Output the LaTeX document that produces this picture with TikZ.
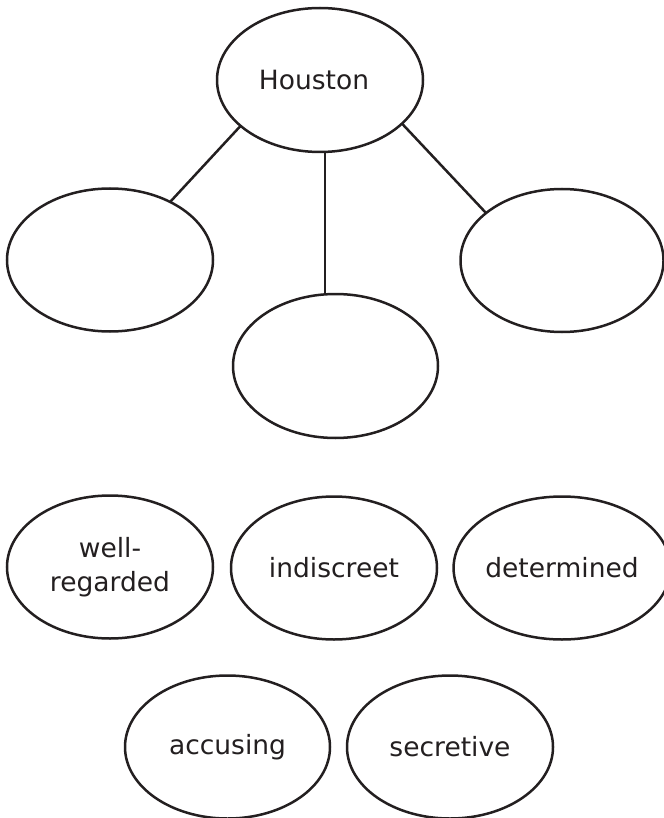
\documentclass[tikz,border=0pt]{standalone}
\usepackage{fontspec}
\setmainfont{DejaVu Sans}
\usetikzlibrary{shapes.geometric}
\definecolor{ink}{HTML}{231F20}
\begin{document}
\begin{tikzpicture}[x=1pt,y=-1pt,
  bubble/.style={ellipse, draw=ink, line width=2.5pt, inner sep=0pt, outer sep=0pt,
    minimum width=206pt, minimum height=143pt, text=ink, font=\fontsize{26.5}{34}\selectfont,
    align=center},
  link/.style={draw=ink, line width=2.5pt}]
\useasboundingbox (0,0) rectangle (663,818);
\node[bubble, minimum height=144pt] (houston) at (320,80) {\hspace*{-12pt}Houston};
\node[bubble] (left) at (110,260) {};
\node[bubble, minimum width=205pt, minimum height=144pt] (mid) at (335.5,366) {};
\node[bubble, minimum width=203pt] (right) at (562,260.5) {};
\node[bubble] (wr) at (110,567) {well-\\regarded};
\node[bubble] (ind) at (334,568) {indiscreet};
\node[bubble, minimum width=203pt] (det) at (562,568) {determined};
\node[bubble, minimum width=205pt] (acc) at (227.5,747) {accusing};
\node[bubble] (sec) at (450,747) {secretive};
\draw[link] (houston.210) -- (left.44.5);
\draw[link] (houston.332) -- (right.148);
\draw[link] (houston.274) -- (houston.274 |- mid.north);
\end{tikzpicture}
\end{document}
